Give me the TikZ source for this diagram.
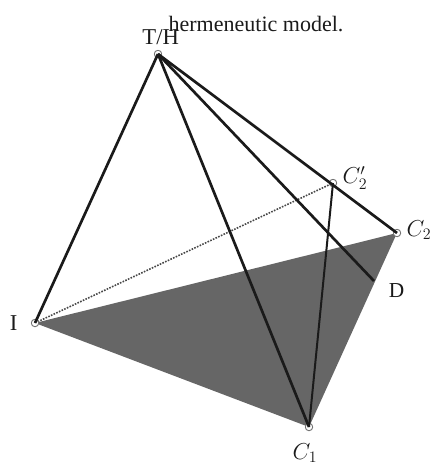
\documentclass[tikz,border=0pt]{standalone}
\usepackage{fontspec}
\setmainfont{Liberation Serif}
\usepackage{xcolor}
\usetikzlibrary{positioning}
\definecolor{sFace}{HTML}{666666}
\definecolor{nInk}{HTML}{1A1A1A}
\tikzset{
  vertex/.style={circle, draw=black!55, fill=white, line width=0.6pt, minimum size=5.5pt, inner sep=0pt},
  edge/.style={draw=nInk, line width=2pt},
  thinedge/.style={draw=nInk, line width=1.5pt},
  hidden/.style={draw=nInk!80, line width=1.2pt, densely dotted},
  lab/.style={font=\fontsize{17}{19}\selectfont, text=nInk, inner sep=0pt},
}

\begin{document}
\begin{tikzpicture}[x=0.75pt, y=-0.75pt]
  \useasboundingbox (0,0) rectangle (437,468);
  % vertices
  \node[vertex] (th) at (158,54) {};
  \node[vertex] (i) at (35,323) {};
  \node[vertex] (c1) at (309,427) {};
  \node[vertex] (c2) at (397,233) {};
  \node[vertex] (c2p) at (333,183) {};
  \coordinate (d) at (374,281);
  % base face
  \fill[sFace] (i.center) -- (c2.center) -- (c1.center) -- cycle;
  \draw[hidden] (i.center) -- (c2p.center);
  \node[vertex] at (th) {};
  \node[vertex] at (i) {};
  \node[vertex] at (c1) {};
  \node[vertex] at (c2) {};
  \node[vertex] at (c2p) {};
  \draw[edge] (th.center) -- (i.center);
  \draw[edge] (th.center) -- (c1.center);
  \draw[edge] (th.center) -- (c2.center);
  \draw[edge] (th.center) -- (d);
  \draw[thinedge] (c2p.center) -- (c1.center);
  % labels
  \node[lab, font=\fontsize{16.5}{19}\selectfont] (caption) at (256,24) {hermeneutic model.};
  \node[lab, above=4pt of th, xshift=2pt] (thlab) {T/H};
  \node[lab, left=10pt of i] (ilab) {I};
  \node[lab, below=9pt of c1, xshift=-3pt] (c1lab) {$C_1$};
  \node[lab, right=4pt of c2, yshift=2pt] (c2lab) {$C_2$};
  \node[lab, right=4pt of c2p, yshift=4pt] (c2plab) {$C_2'$};
  \node[lab, right=11pt of d, yshift=-7pt, font=\fontsize{16}{18}\selectfont] (dlab) {D};
\end{tikzpicture}
\end{document}
